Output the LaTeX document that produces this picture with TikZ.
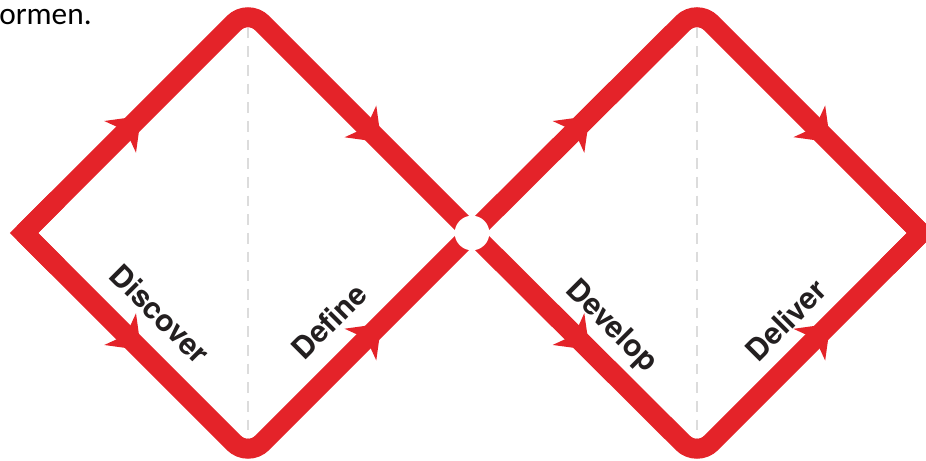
\documentclass[tikz,border=0pt]{standalone}
\usepackage{fontspec}
\setmainfont{TeX Gyre Heros}
\newfontfamily\bodyfont{Carlito}
\usetikzlibrary{arrows.meta,calc,decorations.markings}
\definecolor{DiamondRed}{HTML}{E42329}
\definecolor{LabelGrey}{HTML}{231F20}
\definecolor{GuideGrey}{HTML}{DCDCDC}

\begin{document}
\begin{tikzpicture}[
  x=0.75pt,y=0.75pt,
  track/.style={draw=DiamondRed,line width=15pt,rounded corners=15pt,line join=miter},
  tipjoin/.style={draw=DiamondRed,line width=15pt,line join=miter},
  flow/.style 2 args={postaction={decorate},decoration={markings,
    mark=at position #1 with {\arrow{Stealth[length=22pt,width=33pt,inset=6pt]}},
    mark=at position #2 with {\arrow{Stealth[length=22pt,width=33pt,inset=6pt]}}}},
  guide/.style={draw=GuideGrey,line width=0.8pt,dash pattern=on 8pt off 6pt},
  hub/.style={circle,fill=white,minimum size=26pt,inner sep=0pt},
  phase/.style={font=\bfseries\fontsize{22.5}{22.5}\selectfont,text=LabelGrey,inner sep=0pt}
]
\useasboundingbox (0,0) rectangle (926,461);
\coordinate (start) at (24,228);
\coordinate (top1) at (248,452);
\coordinate (bot1) at (248,4);
\coordinate (mid) at (472,228);
\coordinate (top2) at (697,452);
\coordinate (bot2) at (697,4);
\coordinate (end) at (921,228);
\node[font=\bodyfont\fontsize{23.5}{23.5}\selectfont,anchor=base west,inner sep=0pt] (caption) at (-1,436) {ormen.};
\draw[guide] (top1) -- (bot1);
\draw[guide] (top2) -- (bot2);
\draw[track,flow={0.265}{0.795}] (start) -- (top1) -- (mid);
\draw[track,flow={0.265}{0.795}] (start) -- (bot1) -- (mid);
\draw[track,flow={0.265}{0.795}] (mid) -- (top2) -- (end);
\draw[track,flow={0.265}{0.795}] (mid) -- (bot2) -- (end);
\draw[tipjoin] ($(start)!.15!(top1)$) -- (start) -- ($(start)!.15!(bot1)$);
\draw[tipjoin] ($(end)!.15!(top2)$) -- (end) -- ($(end)!.15!(bot2)$);
\node[hub] (hubcircle) at (mid) {};
\node[phase,rotate=-45] (discover) at (160,147) {Discover};
\node[phase,rotate=45] (define) at (329,140) {Define};
\node[phase,rotate=-45] (develop) at (611,134) {Develop};
\node[phase,rotate=45] (deliver) at (786,141) {Deliver};
\end{tikzpicture}
\end{document}
